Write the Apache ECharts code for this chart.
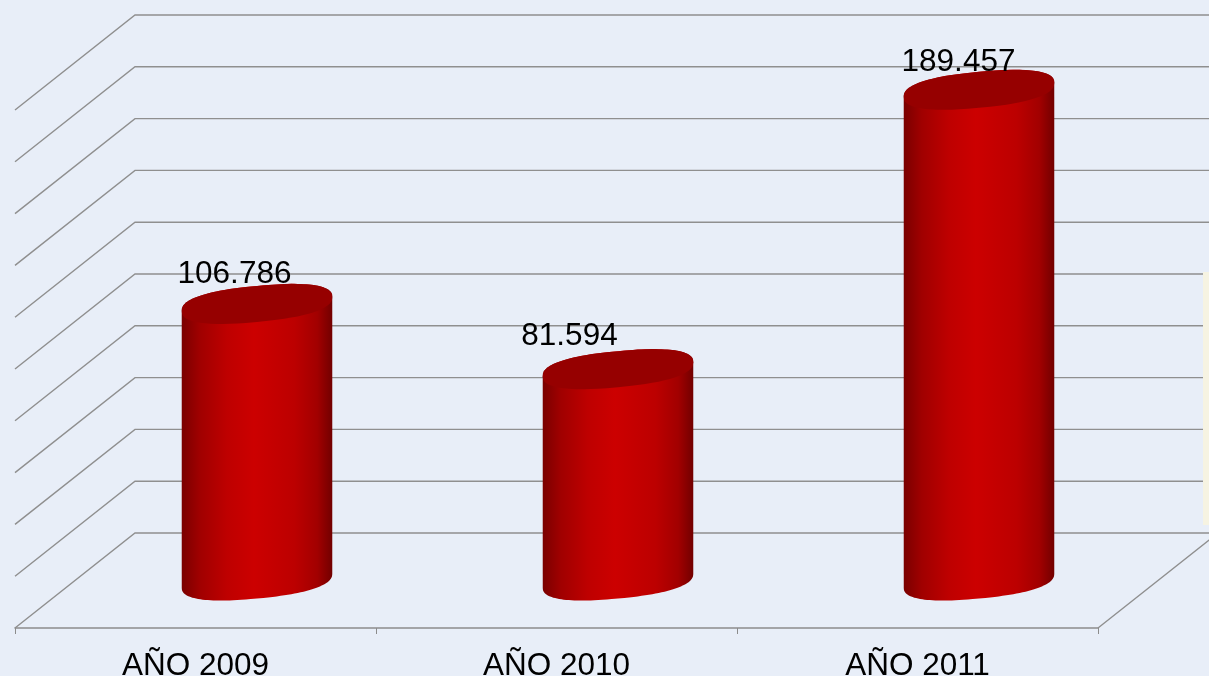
<!DOCTYPE html>
<html>
<head>
<meta charset="utf-8">
<style>html,body{margin:0;padding:0;background:#e8eef8;overflow:hidden}#c{width:1209px;height:676px}</style>
<script src="https://cdn.jsdelivr.net/npm/echarts@6/dist/echarts.min.js"></script>
</head>
<body>
<div id="c"></div>
<script>
const categories = ['AÑO 2009', 'AÑO 2010', 'AÑO 2011'];
const values = [106786, 81594, 189457];
const valueLabels = ['106.786', '81.594', '189.457'];
const wallTicks = [0, 20000, 40000, 60000, 80000, 100000, 120000, 140000, 160000, 180000, 200000];

// layout only
const DEPTH_X = 120, DEPTH_Y = -95, BAR_OX = 61.5, BAR_DEPTH = 0.5, BAR_RATIO = 0.417;
const ELL_A = 18, ELL_B = 7, ELL_P = 0.82;
const labelShift = [[-22.5, -30], [-48.5, -33], [-20.5, -27]];
const LINE = '#8f8f8f';

function ellipsePts(cx, cy, rx, from, to) {
  const pts = [];
  for (let i = 0; i <= 64; i++) {
    const t = from + (to - from) * i / 64;
    const c = Math.cos(t), sn = Math.sin(t);
    const cp = Math.sign(c) * Math.pow(Math.abs(c), ELL_P);
    const sp = Math.sign(sn) * Math.pow(Math.abs(sn), ELL_P);
    pts.push([cx + rx * cp, cy - ELL_B * cp + ELL_A * sp]);
  }
  return pts;
}

function renderWall(params, api) {
  const r = params.coordSys;
  const v = api.value(1);
  const y = api.coord([0, v])[1];
  const pts = [[r.x, y], [r.x + DEPTH_X, y + DEPTH_Y], [r.x + r.width + DEPTH_X, y + DEPTH_Y]];
  if (v === 0) pts.push([r.x + r.width, y]);
  return {
    type: 'polyline',
    shape: { points: pts },
    style: { stroke: LINE, lineWidth: 1.4, fill: null }
  };
}

function renderBar(params, api) {
  const i = api.value(0);
  const base = api.coord([i, 0]);
  const top = api.coord([i, api.value(1)]);
  const rx = api.size([1, 0])[0] * BAR_RATIO / 2;
  const oy = DEPTH_Y * BAR_DEPTH;
  const cx = base[0] + BAR_OX, yb = base[1] + oy, yt = top[1] + oy;
  const body = ellipsePts(cx, yb, rx, 0, Math.PI).concat(ellipsePts(cx, yt, rx, Math.PI, 2 * Math.PI));
  const s = labelShift[params.dataIndex];
  return {
    type: 'group',
    children: [
      {
        type: 'polygon',
        shape: { points: body },
        style: {
          fill: {
            type: 'linear', x: 0, y: 0, x2: 1, y2: 0,
            colorStops: [
              { offset: 0, color: '#7a0000' },
              { offset: 0.12, color: '#a00000' },
              { offset: 0.3, color: '#be0000' },
              { offset: 0.48, color: '#cc0000' },
              { offset: 0.75, color: '#bc0000' },
              { offset: 0.9, color: '#a20000' },
              { offset: 1, color: '#720000' }
            ]
          }
        }
      },
      {
        type: 'polygon',
        shape: { points: ellipsePts(cx, yt, rx, 0, 2 * Math.PI) },
        style: { fill: '#960000' }
      },
      {
        type: 'text',
        z2: 10,
        style: {
          x: cx + s[0], y: yt + s[1],
          text: valueLabels[params.dataIndex],
          align: 'center', verticalAlign: 'middle',
          font: '31.5px "Liberation Sans", Arial, sans-serif',
          fill: '#000'
        }
      }
    ]
  };
}

const chart = echarts.init(document.getElementById('c'), null, { renderer: 'canvas' });
chart.setOption({
  animation: false,
  backgroundColor: '#e8eef8',
  grid: { left: 15, width: 1083, top: 110, bottom: 48, containLabel: false, outerBoundsMode: 'none' },
  xAxis: {
    type: 'category',
    data: categories,
    axisLine: { lineStyle: { color: '#8c8c8c', width: 1.5 } },
    axisTick: { show: true, length: 6, lineStyle: { color: '#8c8c8c' } },
    axisLabel: {
      margin: 22, fontSize: 31.5, color: '#000',
      fontFamily: '"Liberation Sans", Arial, sans-serif', interval: 0
    }
  },
  yAxis: {
    type: 'value', min: 0, max: 200000, interval: 20000,
    axisLine: { show: false }, axisTick: { show: false },
    axisLabel: { show: false }, splitLine: { show: false }
  },
  graphic: [{
    type: 'rect', right: 0, top: 272, z: 50,
    shape: { width: 6, height: 253 },
    style: { fill: '#f6f3e2' }
  }],
  series: [
    { type: 'custom', silent: true, z: 1, clip: false, renderItem: renderWall, data: wallTicks.map(v => [0, v]) },
    { type: 'custom', silent: true, z: 3, clip: false, renderItem: renderBar, data: values.map((v, i) => [i, v]) }
  ]
});
</script>
</body>
</html>
